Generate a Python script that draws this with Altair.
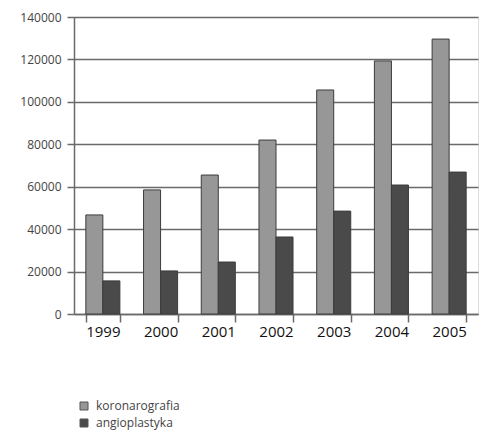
import altair as alt
import pandas as pd

years = ["1999", "2000", "2001", "2002", "2003", "2004", "2005"]
koronarografia = [46700, 58500, 65500, 82000, 105600, 119300, 129600]
angioplastyka = [15600, 20300, 24500, 36300, 48500, 60800, 66900]
series = ["koronarografia", "angioplastyka"]

rows = []
for i, y in enumerate(years):
    rows.append({"rok": y, "seria": series[0], "liczba": koronarografia[i]})
    rows.append({"rok": y, "seria": series[1], "liczba": angioplastyka[i]})
df = pd.DataFrame(rows)

axis_color = "#6a6a6a"
font = "Open Sans"

chart = (
    alt.Chart(df)
    .mark_bar(stroke="#3c3c3c", strokeWidth=1)
    .encode(
        x=alt.X(
            "rok:N",
            sort=years,
            title=None,
            scale=alt.Scale(paddingInner=0.41, paddingOuter=0.205),
            axis=alt.Axis(
                labelAngle=0,
                labelFont=font,
                labelFontSize=15,
                labelColor="#111111",
                labelPadding=2,
                tickBand="extent",
                tickSize=8,
                tickColor=axis_color,
                tickWidth=1.5,
                domainColor=axis_color,
                domainWidth=1.5,
                grid=False,
            ),
        ),
        xOffset=alt.XOffset("seria:N", sort=series),
        y=alt.Y(
            "liczba:Q",
            title=None,
            scale=alt.Scale(domain=[0, 140000], nice=False),
            axis=alt.Axis(
                values=[0, 20000, 40000, 60000, 80000, 100000, 120000, 140000],
                format="d",
                labelFont=font,
                labelFontSize=12,
                labelColor="#444444",
                labelPadding=6,
                tickSize=7,
                tickColor=axis_color,
                tickWidth=1.5,
                domainColor=axis_color,
                domainWidth=1.5,
                gridColor=axis_color,
                gridWidth=1.5,
            ),
        ),
        color=alt.Color(
            "seria:N",
            sort=series,
            scale=alt.Scale(domain=series, range=["#979797", "#4a4a4a"]),
            legend=alt.Legend(
                title=None,
                orient="none",
                legendX=4,
                legendY=383,
                direction="vertical",
                symbolType="square",
                symbolSize=64,
                symbolStrokeColor="#555555",
                symbolStrokeWidth=1,
                labelFont=font,
                labelFontSize=12,
                labelColor="#444444",
                rowPadding=5,
                labelOffset=6,
            ),
        ),
    )
    .properties(
        width=404,
        height=297,
        autosize=alt.AutoSizeParams(type="none"),
        padding={"left": 74, "top": 17, "right": 1, "bottom": 118},
    )
    .configure_view(stroke=axis_color, strokeWidth=1.5)
    .configure(background="white")
)

chart.save("out.html", embed_options={"renderer": "svg", "actions": False})
